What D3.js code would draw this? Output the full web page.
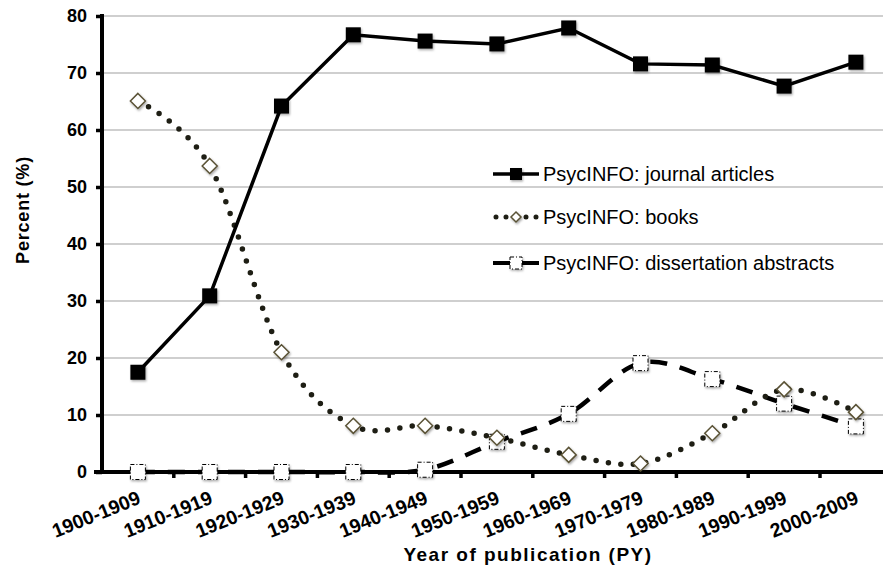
<!DOCTYPE html>
<html>
<head>
<meta charset="utf-8">
<script src="https://cdn.jsdelivr.net/npm/d3@7"></script>
<style>
  body { margin: 0; background: #fff; }
  text { font-family: "Liberation Sans", Arial, sans-serif; }
</style>
</head>
<body>
<div id="chart"></div>
<script>
// data
var periods = ["1900-1909","1910-1919","1920-1929","1930-1939","1940-1949","1950-1959",
               "1960-1969","1970-1979","1980-1989","1990-1999","2000-2009"]
var journals = [17.5, 30.9, 64.2, 76.7, 75.6, 75.1, 77.9, 71.6, 71.4, 67.7, 71.9]
var books = [65.1, 53.7, 21.0, 8.1, 8.1, 6.0, 3.0, 1.5, 6.8, 14.5, 10.5]
var dissertations = [0, 0, 0, 0, 0.4, 5.3, 10.2, 19.1, 16.3, 12.0, 8.0]
var yTicks = [0, 10, 20, 30, 40, 50, 60, 70, 80]
var legendLabels = ["PsycINFO: journal articles", "PsycINFO: books", "PsycINFO: dissertation abstracts"]

var W = 883, H = 568
var plotLeft = 102, plotTop = 16, plotBottom = 472

var svg = d3.select("#chart").append("svg")
  .attr("width", W)
  .attr("height", H)

var defs = svg.append("defs")
var f = defs.append("filter").attr("id", "shadow")
  .attr("x", "-30%").attr("y", "-30%").attr("width", "170%").attr("height", "170%")
f.append("feDropShadow").attr("dx", 1).attr("dy", 1.5).attr("stdDeviation", 1)
  .attr("flood-color", "#000").attr("flood-opacity", 0.35)

var x = d3.scalePoint().domain(periods).range([plotLeft, plotLeft + 11 * 71.8]).padding(0.5)
var y = d3.scaleLinear().domain([0, 80]).range([plotBottom, plotTop])
var step = x.step()

// gridlines
svg.append("g").selectAll("line").data(yTicks.filter(function(d){ return d > 0 }))
  .enter().append("line")
  .attr("x1", plotLeft).attr("x2", W)
  .attr("y1", function(d){ return y(d) }).attr("y2", function(d){ return y(d) })
  .attr("stroke", "#a0a0a0").attr("stroke-width", 1.2)

// y axis
var yAxis = svg.append("g")
  .attr("transform", "translate(" + plotLeft + ",0)")
  .call(d3.axisLeft(y).tickValues(yTicks).tickSize(6).tickPadding(9))
yAxis.select(".domain").attr("stroke", "#000").attr("stroke-width", 4)
  .attr("d", "M0," + (plotTop - 2) + "V" + (plotBottom + 2))
yAxis.selectAll(".tick line").attr("stroke", "#000").attr("stroke-width", 3.5)
yAxis.selectAll(".tick text")
  .attr("font-family", "Liberation Sans, Arial, sans-serif")
  .attr("font-size", 18).attr("font-weight", "bold").attr("fill", "#000")

// x axis line and ticks at band edges
svg.append("line")
  .attr("x1", plotLeft - 8).attr("x2", W)
  .attr("y1", plotBottom).attr("y2", plotBottom)
  .attr("stroke", "#000").attr("stroke-width", 4)
svg.append("g").selectAll("line").data(periods.slice(1))
  .enter().append("line")
  .attr("x1", function(d){ return x(d) - step / 2 }).attr("x2", function(d){ return x(d) - step / 2 })
  .attr("y1", plotBottom).attr("y2", plotBottom + 6)
  .attr("stroke", "#000").attr("stroke-width", 3.5)

svg.append("g").selectAll("text").data(periods)
  .enter().append("text")
  .attr("transform", function(d){ return "translate(" + (x(d) + 4) + "," + (plotBottom + 31) + ") rotate(-22)" })
  .attr("text-anchor", "end")
  .attr("font-size", 19.5).attr("font-weight", "bold")
  .text(function(d){ return d })

// axis titles
svg.append("text")
  .attr("transform", "translate(29,210) rotate(-90)")
  .attr("text-anchor", "middle")
  .attr("font-size", 18).attr("font-weight", "bold").attr("letter-spacing", 0.8)
  .text("Percent (%)")
svg.append("text")
  .attr("x", 528).attr("y", 561)
  .attr("text-anchor", "middle")
  .attr("font-size", 19).attr("font-weight", "bold").attr("letter-spacing", 1.5)
  .text("Year of publication (PY)")

// lines
var straight = d3.line()
  .x(function(d, i){ return x(periods[i]) })
  .y(function(d){ return y(d) })
var smooth = d3.line()
  .x(function(d, i){ return x(periods[i]) })
  .y(function(d){ return y(d) })
  .curve(d3.curveCardinal.tension(0))

svg.append("path").datum(dissertations)
  .attr("d", smooth).attr("fill", "none")
  .attr("stroke", "#000").attr("stroke-width", 4.5)
  .attr("stroke-dasharray", "17,13")

svg.append("path").datum(books)
  .attr("d", smooth).attr("fill", "none")
  .attr("stroke", "#1e1e14").attr("stroke-width", 5.5)
  .attr("stroke-linecap", "round")
  .attr("stroke-dasharray", "0,12.5")

svg.append("path").datum(journals)
  .attr("d", straight).attr("fill", "none")
  .attr("stroke", "#000").attr("stroke-width", 3.5)

// markers
function squareMarker(g, size) {
  g.append("rect")
    .attr("x", -size / 2).attr("y", -size / 2)
    .attr("width", size).attr("height", size)
    .attr("fill", "#000").attr("filter", "url(#shadow)")
}
function diamondMarker(g, size) {
  g.append("path")
    .attr("d", "M0," + (-size / 2) + "L" + (size / 2) + ",0L0," + (size / 2) + "L" + (-size / 2) + ",0Z")
    .attr("fill", "#fff").attr("stroke", "#5a5236").attr("stroke-width", 1.5)
    .attr("filter", "url(#shadow)")
}
function dashedMarker(g, size) {
  g.append("rect")
    .attr("x", -size / 2).attr("y", -size / 2)
    .attr("width", size).attr("height", size)
    .attr("fill", "#fff").attr("stroke", "#000").attr("stroke-width", 1)
    .attr("stroke-dasharray", "4,2,1,2")
    .attr("filter", "url(#shadow)")
}

svg.append("g").selectAll("g").data(dissertations).enter().append("g")
  .attr("transform", function(d, i){ return "translate(" + x(periods[i]) + "," + y(d) + ")" })
  .each(function(){ dashedMarker(d3.select(this), 15) })
svg.append("g").selectAll("g").data(books).enter().append("g")
  .attr("transform", function(d, i){ return "translate(" + x(periods[i]) + "," + y(d) + ")" })
  .each(function(){ diamondMarker(d3.select(this), 15) })
svg.append("g").selectAll("g").data(journals).enter().append("g")
  .attr("transform", function(d, i){ return "translate(" + x(periods[i]) + "," + y(d) + ")" })
  .each(function(){ squareMarker(d3.select(this), 15) })

// legend
var legendY = [174, 217, 263]
var legend = svg.append("g").selectAll("g").data(legendLabels).enter().append("g")
  .attr("transform", function(d, i){ return "translate(493," + legendY[i] + ")" })

legend.each(function(d, i){
  var g = d3.select(this)
  if (i == 0) {
    g.append("line").attr("x1", 0).attr("x2", 46).attr("stroke", "#000").attr("stroke-width", 3.5)
    squareMarker(g.append("g").attr("transform", "translate(23,0)"), 12)
  } else if (i == 1) {
    g.append("line").attr("x1", 3).attr("x2", 46).attr("stroke", "#1e1e14").attr("stroke-width", 5)
      .attr("stroke-linecap", "round").attr("stroke-dasharray", "0,10")
    g.append("rect").attr("x", 16).attr("y", -6).attr("width", 14).attr("height", 12).attr("fill", "#fff")
    diamondMarker(g.append("g").attr("transform", "translate(23,0)"), 10)
  } else {
    g.append("line").attr("x1", 0).attr("x2", 46).attr("stroke", "#000").attr("stroke-width", 4)
    dashedMarker(g.append("g").attr("transform", "translate(23,0)"), 12)
  }
  g.append("text").attr("x", 50).attr("y", 7)
    .attr("font-size", 20).attr("fill", "#000")
    .text(d)
})
</script>
</body>
</html>
